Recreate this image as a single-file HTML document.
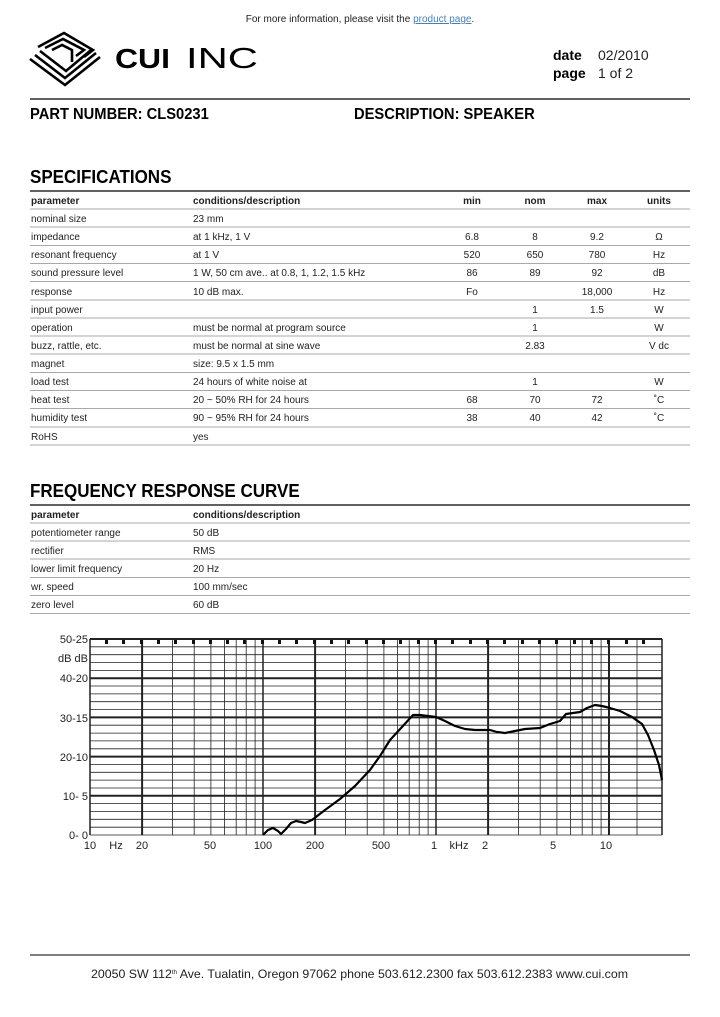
<!DOCTYPE html>
<html><head><meta charset="utf-8"><style>
body{margin:0;background:#fff;}
svg text{font-family:"Liberation Sans",sans-serif;}
</style></head><body>
<svg width="720" height="1012" viewBox="0 0 720 1012" xmlns="http://www.w3.org/2000/svg">
<text x="360" y="22" font-size="10" text-anchor="middle" fill="#222">For more information, please visit the <tspan fill="#4a7fb0" text-decoration="underline">product page</tspan>.</text>
<!-- logo -->
<g fill="none" stroke="#000" stroke-width="2.6">
<polyline points="30,59 65,85 100,57"/>
<polyline points="35,55 65,78 96,53"/>
<polyline points="40,51 66,71 91,50"/>
<polyline points="38,47 64,33 93,50 84,57"/>
<polyline points="45,48 63,39 84,50 76,56"/>
<polyline points="52,50 62,45 72,50 72,62"/>
</g>
<text x="115" y="68" font-size="28" font-weight="bold" textLength="55" lengthAdjust="spacingAndGlyphs">CUI</text>
<text x="186" y="68" font-size="29" textLength="72" lengthAdjust="spacingAndGlyphs">INC</text>
<text x="553" y="60" font-size="14" font-weight="bold">date</text>
<text x="598" y="60" font-size="14" fill="#222">02/2010</text>
<text x="553" y="78" font-size="14" font-weight="bold">page</text>
<text x="598" y="78" font-size="14" fill="#222">1 of 2</text>
<line x1="30" y1="99" x2="690" y2="99" stroke="#000" stroke-width="1.2"/>
<text x="30" y="119" font-size="15.5" font-weight="bold" transform="scale(0.95,1)" transform-origin="30 119">PART NUMBER:  CLS0231</text>
<text x="354" y="119" font-size="15.5" font-weight="bold" transform="scale(0.95,1)" transform-origin="354 119">DESCRIPTION:  SPEAKER</text>
<text x="30" y="183" font-size="18.5" font-weight="bold" transform="scale(0.92,1)" transform-origin="30 183">SPECIFICATIONS</text>
<g stroke="#000">
<line x1="30" y1="191" x2="690" y2="191" stroke-width="1.2"/>
<g stroke-width="0.6" stroke="#555">
<line x1="30" y1="209" x2="690" y2="209"/><line x1="30" y1="227" x2="690" y2="227"/><line x1="30" y1="245.5" x2="690" y2="245.5"/><line x1="30" y1="263.5" x2="690" y2="263.5"/><line x1="30" y1="281.5" x2="690" y2="281.5"/><line x1="30" y1="300" x2="690" y2="300"/><line x1="30" y1="318" x2="690" y2="318"/><line x1="30" y1="336" x2="690" y2="336"/><line x1="30" y1="354" x2="690" y2="354"/><line x1="30" y1="372.5" x2="690" y2="372.5"/><line x1="30" y1="390.5" x2="690" y2="390.5"/><line x1="30" y1="408.5" x2="690" y2="408.5"/><line x1="30" y1="427" x2="690" y2="427"/><line x1="30" y1="445" x2="690" y2="445"/>
</g></g>
<g font-size="10" fill="#222">
<g font-weight="bold"><text x="31" y="204">parameter</text><text x="193" y="204">conditions/description</text><text x="472" y="204" text-anchor="middle">min</text><text x="535" y="204" text-anchor="middle">nom</text><text x="597" y="204" text-anchor="middle">max</text><text x="659" y="204" text-anchor="middle">units</text></g>
<text x="31" y="222">nominal size</text><text x="193" y="222">23 mm</text>
<text x="31" y="240">impedance</text><text x="193" y="240">at 1 kHz, 1 V</text><text x="472" y="240" text-anchor="middle">6.8</text><text x="535" y="240" text-anchor="middle">8</text><text x="597" y="240" text-anchor="middle">9.2</text><text x="659" y="240" text-anchor="middle">Ω</text>
<text x="31" y="258">resonant frequency</text><text x="193" y="258">at 1 V</text><text x="472" y="258" text-anchor="middle">520</text><text x="535" y="258" text-anchor="middle">650</text><text x="597" y="258" text-anchor="middle">780</text><text x="659" y="258" text-anchor="middle">Hz</text>
<text x="31" y="276">sound pressure level</text><text x="193" y="276">1 W, 50 cm ave.. at 0.8, 1, 1.2, 1.5 kHz</text><text x="472" y="276" text-anchor="middle">86</text><text x="535" y="276" text-anchor="middle">89</text><text x="597" y="276" text-anchor="middle">92</text><text x="659" y="276" text-anchor="middle">dB</text>
<text x="31" y="295">response</text><text x="193" y="295">10 dB max.</text><text x="472" y="295" text-anchor="middle">Fo</text><text x="597" y="295" text-anchor="middle">18,000</text><text x="659" y="295" text-anchor="middle">Hz</text>
<text x="31" y="313">input power</text><text x="535" y="313" text-anchor="middle">1</text><text x="597" y="313" text-anchor="middle">1.5</text><text x="659" y="313" text-anchor="middle">W</text>
<text x="31" y="331">operation</text><text x="193" y="331">must be normal at program source</text><text x="535" y="331" text-anchor="middle">1</text><text x="659" y="331" text-anchor="middle">W</text>
<text x="31" y="349">buzz, rattle, etc.</text><text x="193" y="349">must be normal at sine wave</text><text x="535" y="349" text-anchor="middle">2.83</text><text x="659" y="349" text-anchor="middle">V dc</text>
<text x="31" y="367">magnet</text><text x="193" y="367">size: 9.5 x 1.5 mm</text>
<text x="31" y="385">load test</text><text x="193" y="385">24 hours of white noise at</text><text x="535" y="385" text-anchor="middle">1</text><text x="659" y="385" text-anchor="middle">W</text>
<text x="31" y="403">heat test</text><text x="193" y="403">20 ~ 50% RH for 24 hours</text><text x="472" y="403" text-anchor="middle">68</text><text x="535" y="403" text-anchor="middle">70</text><text x="597" y="403" text-anchor="middle">72</text><text x="659" y="403" text-anchor="middle">˚C</text>
<text x="31" y="421">humidity test</text><text x="193" y="421">90 ~ 95% RH for 24 hours</text><text x="472" y="421" text-anchor="middle">38</text><text x="535" y="421" text-anchor="middle">40</text><text x="597" y="421" text-anchor="middle">42</text><text x="659" y="421" text-anchor="middle">˚C</text>
<text x="31" y="440">RoHS</text><text x="193" y="440">yes</text>
</g>
<text x="30" y="497" font-size="18.5" font-weight="bold" transform="scale(0.92,1)" transform-origin="30 497">FREQUENCY RESPONSE CURVE</text>
<line x1="30" y1="505" x2="690" y2="505" stroke="#000" stroke-width="1.2"/>
<g stroke="#555" stroke-width="0.6">
<line x1="30" y1="523" x2="690" y2="523"/><line x1="30" y1="541" x2="690" y2="541"/><line x1="30" y1="559" x2="690" y2="559"/><line x1="30" y1="577.5" x2="690" y2="577.5"/><line x1="30" y1="595.5" x2="690" y2="595.5"/><line x1="30" y1="613.5" x2="690" y2="613.5"/>
</g>
<g font-size="10" fill="#222">
<g font-weight="bold"><text x="31" y="518">parameter</text><text x="193" y="518">conditions/description</text></g>
<text x="31" y="536">potentiometer range</text><text x="193" y="536">50 dB</text>
<text x="31" y="554">rectifier</text><text x="193" y="554">RMS</text>
<text x="31" y="572">lower limit frequency</text><text x="193" y="572">20 Hz</text>
<text x="31" y="590">wr. speed</text><text x="193" y="590">100 mm/sec</text>
<text x="31" y="608">zero level</text><text x="193" y="608">60 dB</text>
</g>
<!-- chart -->
<g stroke="#222" stroke-width="0.8">
<line x1="90" x2="662" y1="835" y2="835"/><line x1="90" x2="662" y1="827.2" y2="827.2"/><line x1="90" x2="662" y1="819.3" y2="819.3"/><line x1="90" x2="662" y1="811.5" y2="811.5"/><line x1="90" x2="662" y1="803.6" y2="803.6"/><line x1="90" x2="662" y1="795.8" y2="795.8" stroke-width="2"/><line x1="90" x2="662" y1="788" y2="788"/><line x1="90" x2="662" y1="780.1" y2="780.1"/><line x1="90" x2="662" y1="772.3" y2="772.3"/><line x1="90" x2="662" y1="764.4" y2="764.4"/><line x1="90" x2="662" y1="756.6" y2="756.6" stroke-width="2"/><line x1="90" x2="662" y1="748.8" y2="748.8"/><line x1="90" x2="662" y1="740.9" y2="740.9"/><line x1="90" x2="662" y1="733.1" y2="733.1"/><line x1="90" x2="662" y1="725.2" y2="725.2"/><line x1="90" x2="662" y1="717.4" y2="717.4" stroke-width="2"/><line x1="90" x2="662" y1="709.6" y2="709.6"/><line x1="90" x2="662" y1="701.7" y2="701.7"/><line x1="90" x2="662" y1="693.9" y2="693.9"/><line x1="90" x2="662" y1="686" y2="686"/><line x1="90" x2="662" y1="678.2" y2="678.2" stroke-width="2"/><line x1="90" x2="662" y1="670.4" y2="670.4"/><line x1="90" x2="662" y1="662.5" y2="662.5"/><line x1="90" x2="662" y1="654.7" y2="654.7"/><line x1="90" x2="662" y1="646.8" y2="646.8"/><line x1="90" x2="662" y1="639" y2="639" stroke-width="2"/>
</g>
<g stroke="#222" stroke-width="0.8">
<line y1="639" y2="835" x1="90" x2="90" stroke-width="1.5"/><line y1="639" y2="835" x1="142.1" x2="142.1" stroke-width="2"/><line y1="639" y2="835" x1="172.5" x2="172.5"/><line y1="639" y2="835" x1="194.2" x2="194.2"/><line y1="639" y2="835" x1="210.9" x2="210.9"/><line y1="639" y2="835" x1="224.6" x2="224.6"/><line y1="639" y2="835" x1="236.2" x2="236.2"/><line y1="639" y2="835" x1="246.2" x2="246.2"/><line y1="639" y2="835" x1="255.1" x2="255.1"/>
<line y1="639" y2="835" x1="263" x2="263" stroke-width="1.5"/><line y1="639" y2="835" x1="315.1" x2="315.1" stroke-width="2"/><line y1="639" y2="835" x1="345.5" x2="345.5"/><line y1="639" y2="835" x1="367.2" x2="367.2"/><line y1="639" y2="835" x1="383.9" x2="383.9"/><line y1="639" y2="835" x1="397.6" x2="397.6"/><line y1="639" y2="835" x1="409.2" x2="409.2"/><line y1="639" y2="835" x1="419.2" x2="419.2"/><line y1="639" y2="835" x1="428.1" x2="428.1"/>
<line y1="639" y2="835" x1="436" x2="436" stroke-width="1.5"/><line y1="639" y2="835" x1="488.1" x2="488.1" stroke-width="2"/><line y1="639" y2="835" x1="518.5" x2="518.5"/><line y1="639" y2="835" x1="540.2" x2="540.2"/><line y1="639" y2="835" x1="556.9" x2="556.9"/><line y1="639" y2="835" x1="570.6" x2="570.6"/><line y1="639" y2="835" x1="582.2" x2="582.2"/><line y1="639" y2="835" x1="592.2" x2="592.2"/><line y1="639" y2="835" x1="601.1" x2="601.1"/>
<line y1="639" y2="835" x1="609" x2="609" stroke-width="2"/><line y1="639" y2="835" x1="637" x2="637"/><line y1="639" y2="835" x1="662" x2="662" stroke-width="1.5"/>
</g>
<g fill="#111">
<rect x="105" y="640" width="3" height="4"/><rect x="122" y="640" width="3" height="4"/><rect x="140" y="640" width="3" height="4"/><rect x="157" y="640" width="3" height="4"/><rect x="174" y="640" width="3" height="4"/><rect x="192" y="640" width="3" height="4"/><rect x="209" y="640" width="3" height="4"/><rect x="226" y="640" width="3" height="4"/><rect x="243" y="640" width="3" height="4"/><rect x="261" y="640" width="3" height="4"/><rect x="278" y="640" width="3" height="4"/><rect x="295" y="640" width="3" height="4"/><rect x="313" y="640" width="3" height="4"/><rect x="330" y="640" width="3" height="4"/><rect x="347" y="640" width="3" height="4"/><rect x="365" y="640" width="3" height="4"/><rect x="382" y="640" width="3" height="4"/><rect x="399" y="640" width="3" height="4"/><rect x="417" y="640" width="3" height="4"/><rect x="434" y="640" width="3" height="4"/><rect x="451" y="640" width="3" height="4"/><rect x="469" y="640" width="3" height="4"/><rect x="486" y="640" width="3" height="4"/><rect x="503" y="640" width="3" height="4"/><rect x="521" y="640" width="3" height="4"/><rect x="538" y="640" width="3" height="4"/><rect x="555" y="640" width="3" height="4"/><rect x="573" y="640" width="3" height="4"/><rect x="590" y="640" width="3" height="4"/><rect x="607" y="640" width="3" height="4"/><rect x="625" y="640" width="3" height="4"/><rect x="642" y="640" width="3" height="4"/>
</g>
<g font-size="11" fill="#222" text-anchor="end">
<text x="88" y="643">50-25</text><text x="88" y="662">dB dB</text><text x="88" y="682">40-20</text><text x="88" y="722">30-15</text><text x="88" y="761">20-10</text><text x="88" y="800">10-  5</text><text x="88" y="839">0-  0</text>
</g>
<g font-size="11" fill="#222" text-anchor="middle">
<text x="90" y="849">10</text><text x="116" y="849">Hz</text><text x="142" y="849">20</text><text x="210" y="849">50</text><text x="263" y="849">100</text><text x="315" y="849">200</text><text x="381" y="849">500</text><text x="434" y="849">1</text><text x="459" y="849">kHz</text><text x="485" y="849">2</text><text x="553" y="849">5</text><text x="606" y="849">10</text>
</g>
<polyline fill="none" stroke="#000" stroke-width="2.2" stroke-linejoin="round" points="263,835 268,830 273,828 278,831 281,834 286,829 291,823 296,821 301,822 305,823 312,820 325,810 340,799 355,786 370,770 380,756 390,740 402,727 413,715 420,715 428,716 436,717 445,721 455,726 465,729 475,730 490,730 497,732 505,733 515,731 525,729 540,728 550,724 560,721 566,714 573,713 580,712 587,708 595,705 602,706 610,708 620,711 632,717 642,724 648,735 654,750 659,765 662,780"/>
<line x1="30" y1="955" x2="690" y2="955" stroke="#000" stroke-width="1"/>
<text x="91" y="978" font-size="12" fill="#222" textLength="537" lengthAdjust="spacingAndGlyphs">20050 SW 112<tspan font-size="6" dy="-4">th</tspan><tspan dy="4"> Ave. Tualatin, Oregon 97062    phone 503.612.2300   fax 503.612.2383   www.cui.com</tspan></text>
</svg>
</body></html>
